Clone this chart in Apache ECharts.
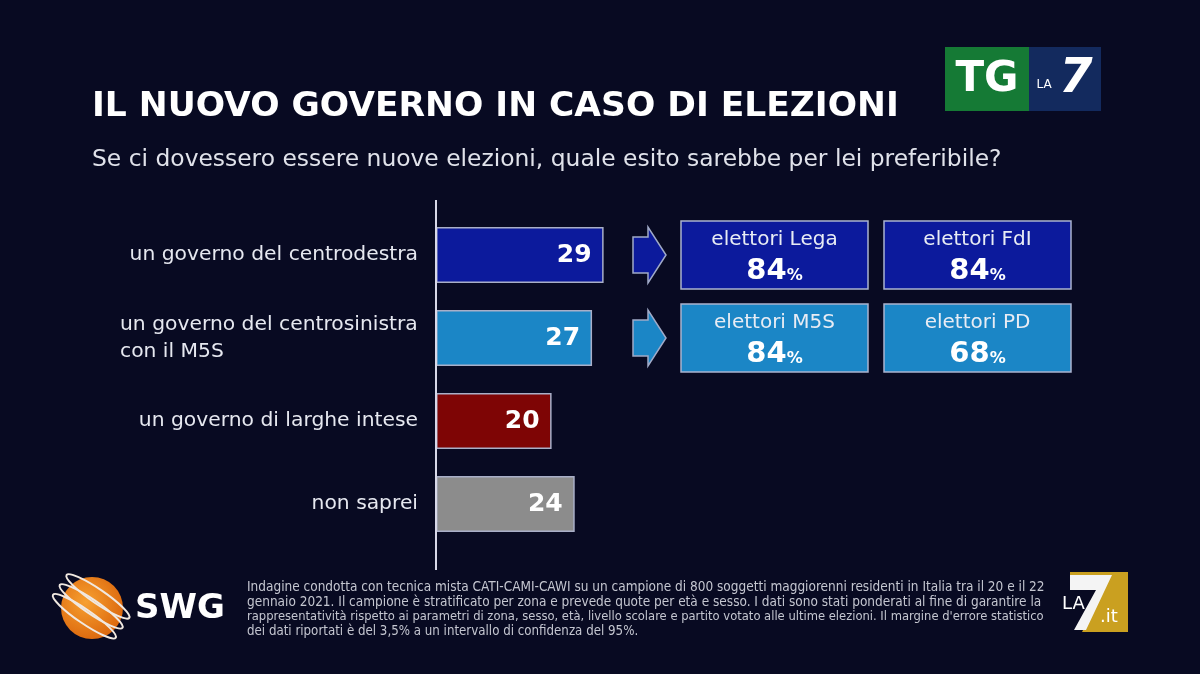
<!DOCTYPE html>
<html><head><meta charset="utf-8">
<script src="https://cdn.jsdelivr.net/npm/echarts@6/dist/echarts.min.js"></script>
<style>html,body{margin:0;padding:0;background:#080a22;}#c{width:1200px;height:674px;}</style>
</head><body><div id="c"></div>
<script>
const categories = ['un governo del centrodestra', 'un governo del centrosinistra\ncon il M5S', 'un governo di larghe intese', 'non saprei'];
const values = [29, 27, 20, 24];
const barColors = ['#0c1a9c', '#1b86c6', '#7e0505', '#8c8c8c'];
const boxLabels = [['elettori Lega', 'elettori FdI'], ['elettori M5S', 'elettori PD']];
const boxValues = [[84, 84], [84, 68]];
const boxColors = ['#0c1a9c', '#1b86c6'];
const footnote = [
 'Indagine condotta con tecnica mista CATI-CAMI-CAWI su un campione di 800 soggetti maggiorenni residenti in Italia tra il 20 e il 22',
 'gennaio 2021. Il campione è stratificato per zona e prevede quote per età e sesso. I dati sono stati ponderati al fine di garantire la',
 'rappresentatività rispetto ai parametri di zona, sesso, età, livello scolare e partito votato alle ultime elezioni. Il margine d\'errore statistico',
 'dei dati riportati è del 3,5% a un intervallo di confidenza del 95%.'
];

const chart = echarts.init(document.getElementById('c'));
const gridTop = 213.5, band = 83;
const g = [];
// axis line
g.push({type:'line', shape:{x1:436,y1:200,x2:436,y2:570}, style:{stroke:'#d8d8e8', lineWidth:2}, z:10});
// boxes and arrows
boxLabels.forEach((row, r) => {
  const cy = gridTop + band * (r + 0.5);
  g.push({type:'polygon', shape:{points:[[633,cy-18],[648,cy-18],[648,cy-28],[666,cy],[648,cy+28],[648,cy+18],[633,cy+18]]},
    style:{fill:boxColors[r], stroke:'#a0aac8', lineWidth:1.5}});
  row.forEach((lab, c) => {
    const x = 681 + c * 203, y = cy - 34;
    g.push({type:'rect', shape:{x:x, y:y, width:187, height:68}, style:{fill:boxColors[r], stroke:'#aab4d0', lineWidth:1.5}});
    g.push({type:'text', x:x+93.5, y:y+19, style:{text:lab, fill:'#e8ecf4', font:'20px "DejaVu Sans"', align:'center', verticalAlign:'middle'}});
    g.push({type:'text', x:x+93.5, y:y+50, style:{
      text:'{v|' + boxValues[r][c] + '}{p|%}', align:'center', verticalAlign:'middle',
      rich:{v:{fill:'#ffffff', font:'bold 29px "DejaVu Sans"'}, p:{fill:'#ffffff', font:'bold 16px "DejaVu Sans"', padding:[9,0,0,0]}}}});
  });
});
// title & subtitle
g.push({type:'text', x:92, y:107, style:{text:'IL NUOVO GOVERNO IN CASO DI ELEZIONI', fill:'#ffffff', font:'bold 34.5px "DejaVu Sans"', verticalAlign:'middle'}});
g.push({type:'text', x:92, y:160, style:{text:'Se ci dovessero essere nuove elezioni, quale esito sarebbe per lei preferibile?', fill:'#e0e2ea', font:'23.4px "DejaVu Sans"', verticalAlign:'middle'}});
// TG LA7 logo
g.push({type:'rect', shape:{x:945,y:47,width:84,height:64}, style:{fill:'#157a35'}});
g.push({type:'rect', shape:{x:1029,y:47,width:72,height:64}, style:{fill:'#132a5e'}});
g.push({type:'text', x:987, y:80, style:{text:'TG', fill:'#ffffff', font:'bold 42px "DejaVu Sans"', align:'center', verticalAlign:'middle'}});
g.push({type:'text', x:1044, y:85, style:{text:'LA', fill:'#ffffff', font:'12px "DejaVu Sans"', align:'center', verticalAlign:'middle'}});
g.push({type:'text', x:1076, y:80, style:{text:'7', fill:'#ffffff', font:'bold italic 48px "DejaVu Sans"', align:'center', verticalAlign:'middle'}});
// SWG logo
g.push({type:'circle', shape:{cx:92,cy:608,r:31}, style:{fill:{type:'radial',x:0.4,y:0.4,r:0.7,colorStops:[{offset:0,color:'#f7a030'},{offset:1,color:'#d9620a'}]}}});
[-14,-2,10].forEach((o)=>{
  g.push({type:'ellipse', shape:{cx:90,cy:608+o,rx:38,ry:7}, rotation:-0.6, originX:90, originY:608, style:{fill:'none', stroke:'#f0e8e0', lineWidth:2}});
});
g.push({type:'text', x:135, y:609, style:{text:'SWG', fill:'#ffffff', font:'bold 34px "DejaVu Sans"', verticalAlign:'middle'}});
// footnote (justified look: lines 1-3 end near the same x)
const fnSizes = [13.5, 13.5, 12.85, 13.2];
footnote.forEach((t,i)=>{
  g.push({type:'text', x:247, y:587 + i*15, style:{text:t, fill:'#c4c6d0', font:fnSizes[i] + 'px "Liberation Sans Narrow", "DejaVu Sans Condensed", sans-serif', verticalAlign:'middle'}});
});
// LA7.it logo
g.push({type:'polygon', shape:{points:[[1070,572],[1128,572],[1128,632],[1082,632],[1104,590],[1070,590]]}, style:{fill:'#e0b020', opacity:0.9}});
g.push({type:'polygon', shape:{points:[[1070,575],[1112,575],[1086,630],[1074,630],[1096,590],[1070,590]]}, style:{fill:'#f4f4f4'}});
g.push({type:'text', x:1062, y:604, style:{text:'LA', fill:'#ffffff', font:'18px "DejaVu Sans"', verticalAlign:'middle'}});
g.push({type:'text', x:1100, y:617, style:{text:'.it', fill:'#ffffff', font:'18px "DejaVu Sans"', verticalAlign:'middle'}});

chart.setOption({
  backgroundColor:'#080a22',
  animation:false,
  grid:{left:436, top:gridTop, width:578, height:band*4},
  xAxis:{type:'value', min:0, max:100, show:false},
  yAxis:{type:'category', data:categories, inverse:true,
    axisLine:{show:false}, axisTick:{show:false},
    axisLabel:{color:'#e6e8f0', fontSize:20.3, fontFamily:'DejaVu Sans', margin:18, lineHeight:27, align:'right',
      formatter:(v)=> v.indexOf('\n')>=0 ? v.split('\n').map(s=>'{l|'+s+'}').join('\n') : v,
      rich:{l:{width:298, align:'left', color:'#e6e8f0', fontSize:20.3, fontFamily:'DejaVu Sans', lineHeight:27}}}},
  series:[{type:'bar', data:values.map((v,i)=>({value:v, itemStyle:{color:barColors[i]}})),
    barWidth:56,
    itemStyle:{borderColor:'#a9afc8', borderWidth:1.5},
    label:{show:true, position:'insideRight', distance:12, color:'#ffffff', fontSize:25, fontWeight:'bold', fontFamily:'DejaVu Sans'}}],
  graphic:g
});
</script></body></html>
